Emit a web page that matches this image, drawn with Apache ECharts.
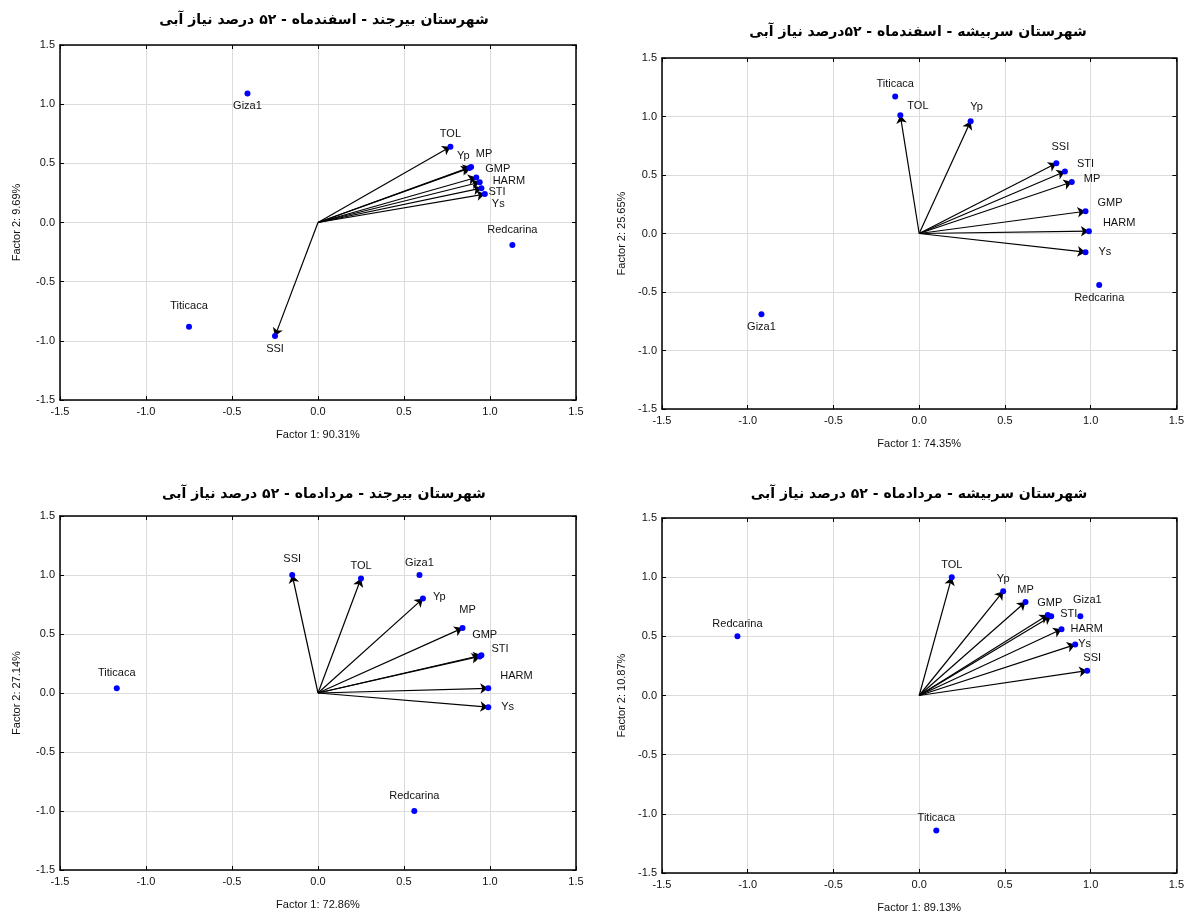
<!DOCTYPE html>
<html>
<head>
<meta charset="utf-8">
<script src="https://cdn.jsdelivr.net/npm/echarts@6/dist/echarts.min.js"></script>
<style>
  html, body { margin: 0; padding: 0; background: #fff; }
  #chart { width: 1187px; height: 915px; }
</style>
</head>
<body>
<div id="chart"></div>
<script>
// variables drawn as arrows, genotypes as plain points
const varNames = ['Yp', 'Ys', 'TOL', 'MP', 'GMP', 'HARM', 'STI', 'SSI']
const genoNames = ['Giza1', 'Titicaca', 'Redcarina']

// panel 1: بیرجند - اسفندماه
const p1VarX = [0.88, 0.97, 0.77, 0.89, 0.92, 0.94, 0.95, -0.25]
const p1VarY = [0.46, 0.24, 0.64, 0.47, 0.38, 0.34, 0.29, -0.96]
const p1GenoX = [-0.41, -0.75, 1.13]
const p1GenoY = [1.09, -0.88, -0.19]

// panel 2: سربیشه - اسفندماه
const p2VarX = [0.30, 0.97, -0.11, 0.89, 0.97, 0.99, 0.85, 0.80]
const p2VarY = [0.96, -0.16, 1.01, 0.44, 0.19, 0.02, 0.53, 0.60]
const p2GenoX = [-0.92, -0.14, 1.05]
const p2GenoY = [-0.69, 1.17, -0.44]

// panel 3: بیرجند - مردادماه
const p3VarX = [0.61, 0.99, 0.25, 0.84, 0.94, 0.99, 0.95, -0.15]
const p3VarY = [0.80, -0.12, 0.97, 0.55, 0.31, 0.04, 0.32, 1.00]
const p3GenoX = [0.59, -1.17, 0.56]
const p3GenoY = [1.00, 0.04, -1.00]

// panel 4: سربیشه - مردادماه
const p4VarX = [0.49, 0.91, 0.19, 0.62, 0.75, 0.83, 0.77, 0.98]
const p4VarY = [0.88, 0.43, 1.00, 0.79, 0.68, 0.56, 0.67, 0.21]
const p4GenoX = [0.94, 0.10, -1.06]
const p4GenoY = [0.67, -1.14, 0.50]

const titles = [
  'شهرستان بیرجند - اسفندماه - ۵۲ درصد نیاز آبی',
  'شهرستان سربیشه - اسفندماه - ۵۲درصد نیاز آبی',
  'شهرستان بیرجند - مردادماه - ۵۲ درصد نیاز آبی',
  'شهرستان سربیشه - مردادماه - ۵۲ درصد نیاز آبی'
]
const factor1 = ['Factor 1: 90.31%', 'Factor 1: 74.35%', 'Factor 1: 72.86%', 'Factor 1: 89.13%']
const factor2 = ['Factor 2: 9.69%', 'Factor 2: 25.65%', 'Factor 2: 27.14%', 'Factor 2: 10.87%']

const panels = [
  { vx: p1VarX, vy: p1VarY, gx: p1GenoX, gy: p1GenoY },
  { vx: p2VarX, vy: p2VarY, gx: p2GenoX, gy: p2GenoY },
  { vx: p3VarX, vy: p3VarY, gx: p3GenoX, gy: p3GenoY },
  { vx: p4VarX, vy: p4VarY, gx: p4GenoX, gy: p4GenoY }
]

// layout
const grids = [
  { left: 60, top: 45, width: 516, height: 355 },
  { left: 662, top: 58, width: 519, height: 351 },
  { left: 60, top: 516, width: 516, height: 354 },
  { left: 662, top: 518, width: 519, height: 355 }
]
const titlePos = [[324, 20], [918, 32], [324, 494], [919, 494]]
const yNameGap = [38, 35, 38, 35]

// label placement per panel: name -> [position, dx, dy]
const labelPlace = [
  {
    Giza1: ['bottom', 0, 0], TOL: ['top', 0, 0], Yp: ['top', -6, 0], MP: ['top', 13, 0],
    GMP: ['right', 2, -9], HARM: ['right', 6, -1], STI: ['right', 0, 4], Ys: ['right', 0, 10],
    Redcarina: ['top', 0, -3], Titicaca: ['top', 0, -8], SSI: ['bottom', 0, 0]
  },
  {
    Titicaca: ['top', 0, 0], TOL: ['right', 0, -9], Yp: ['top', 6, -2], SSI: ['top', 4, -4],
    STI: ['right', 5, -8], MP: ['right', 5, -3], GMP: ['right', 5, -8], HARM: ['right', 7, -8],
    Ys: ['right', 6, 0], Redcarina: ['bottom', 0, 0], Giza1: ['bottom', 0, 0]
  },
  {
    SSI: ['top', 0, -4], TOL: ['top', 0, 0], Giza1: ['top', 0, 0], Yp: ['right', 3, -2],
    MP: ['top', 5, -6], GMP: ['top', 5, -9], STI: ['right', 3, -6], HARM: ['right', 5, -12],
    Ys: ['right', 6, 0], Titicaca: ['top', 0, -3], Redcarina: ['top', 0, -3]
  },
  {
    TOL: ['top', 0, 0], Yp: ['top', 0, 0], MP: ['top', 0, 0], GMP: ['top', 2, 0],
    STI: ['right', 2, -2], Giza1: ['top', 7, -4], HARM: ['right', 2, 0], Ys: ['right', -4, -1],
    SSI: ['top', 5, 0], Redcarina: ['top', 0, 0], Titicaca: ['top', 0, 0]
  }
]

const FONT = '"Liberation Sans", Arial, sans-serif'
const fmt = v => v.toFixed(1)

const xAxes = []
const yAxes = []
const series = []
const graphic = []

panels.forEach((p, i) => {
  const common = {
    type: 'value', gridIndex: i, min: -1.5, max: 1.5, interval: 0.5,
    axisLine: { show: true, onZero: false, lineStyle: { color: '#000', width: 1.5 } },
    axisTick: { show: true, inside: true, length: 4, lineStyle: { color: '#000' } }
  }
  xAxes.push(Object.assign({}, common, {
    position: 'bottom',
    axisLabel: { formatter: fmt, fontSize: 11, color: '#111', fontFamily: FONT, margin: 6 },
    splitLine: { show: true, lineStyle: { color: '#dcdcdc', width: 1 } },
    name: factor1[i], nameLocation: 'middle', nameGap: 29,
    nameTextStyle: { fontSize: 11, color: '#111', fontFamily: FONT }
  }))
  xAxes.push(Object.assign({}, common, {
    position: 'top', axisLabel: { show: false }, splitLine: { show: false }
  }))
  yAxes.push(Object.assign({}, common, {
    position: 'left',
    axisLabel: { formatter: fmt, fontSize: 11, color: '#111', fontFamily: FONT, margin: 5 },
    splitLine: { show: true, lineStyle: { color: '#dcdcdc', width: 1 } },
    name: factor2[i], nameLocation: 'middle', nameGap: yNameGap[i], nameRotate: 90,
    nameTextStyle: { fontSize: 11, color: '#111', fontFamily: FONT }
  }))
  yAxes.push(Object.assign({}, common, {
    position: 'right', axisLabel: { show: false }, splitLine: { show: false }
  }))

  // arrows from the origin to each variable
  series.push({
    type: 'lines',
    coordinateSystem: 'cartesian2d',
    xAxisIndex: 2 * i, yAxisIndex: 2 * i,
    symbol: ['none', 'arrow'],
    symbolSize: [0, 8],
    silent: true,
    z: 2,
    lineStyle: { color: '#000', width: 1.2, opacity: 1 },
    data: p.vx.map((x, k) => ({ coords: [[0, 0], [x, p.vy[k]]] }))
  })

  const place = labelPlace[i]
  const pts = varNames.map((n, k) => [n, p.vx[k], p.vy[k]])
    .concat(genoNames.map((n, k) => [n, p.gx[k], p.gy[k]]))
  series.push({
    type: 'scatter',
    xAxisIndex: 2 * i, yAxisIndex: 2 * i,
    symbolSize: 6,
    z: 3,
    itemStyle: { color: '#0000ff', opacity: 1 },
    label: { show: true, formatter: '{b}', fontSize: 11, color: '#111', fontFamily: FONT, distance: 4 },
    data: pts.map(d => {
      const pl = place[d[0]] || ['top', 0, 0]
      return { name: d[0], value: [d[1], d[2]], label: { position: pl[0], offset: [pl[1], pl[2]] } }
    })
  })

  graphic.push({
    type: 'text',
    x: titlePos[i][0], y: titlePos[i][1],
    style: {
      text: titles[i], textAlign: 'center', textVerticalAlign: 'middle',
      font: 'bold 14px "DejaVu Sans", sans-serif', fill: '#000'
    }
  })
})

const chart = echarts.init(document.getElementById('chart'))
chart.setOption({
  animation: false,
  backgroundColor: '#fff',
  grid: grids,
  xAxis: xAxes,
  yAxis: yAxes,
  series: series,
  graphic: graphic
})
</script>
</body>
</html>
